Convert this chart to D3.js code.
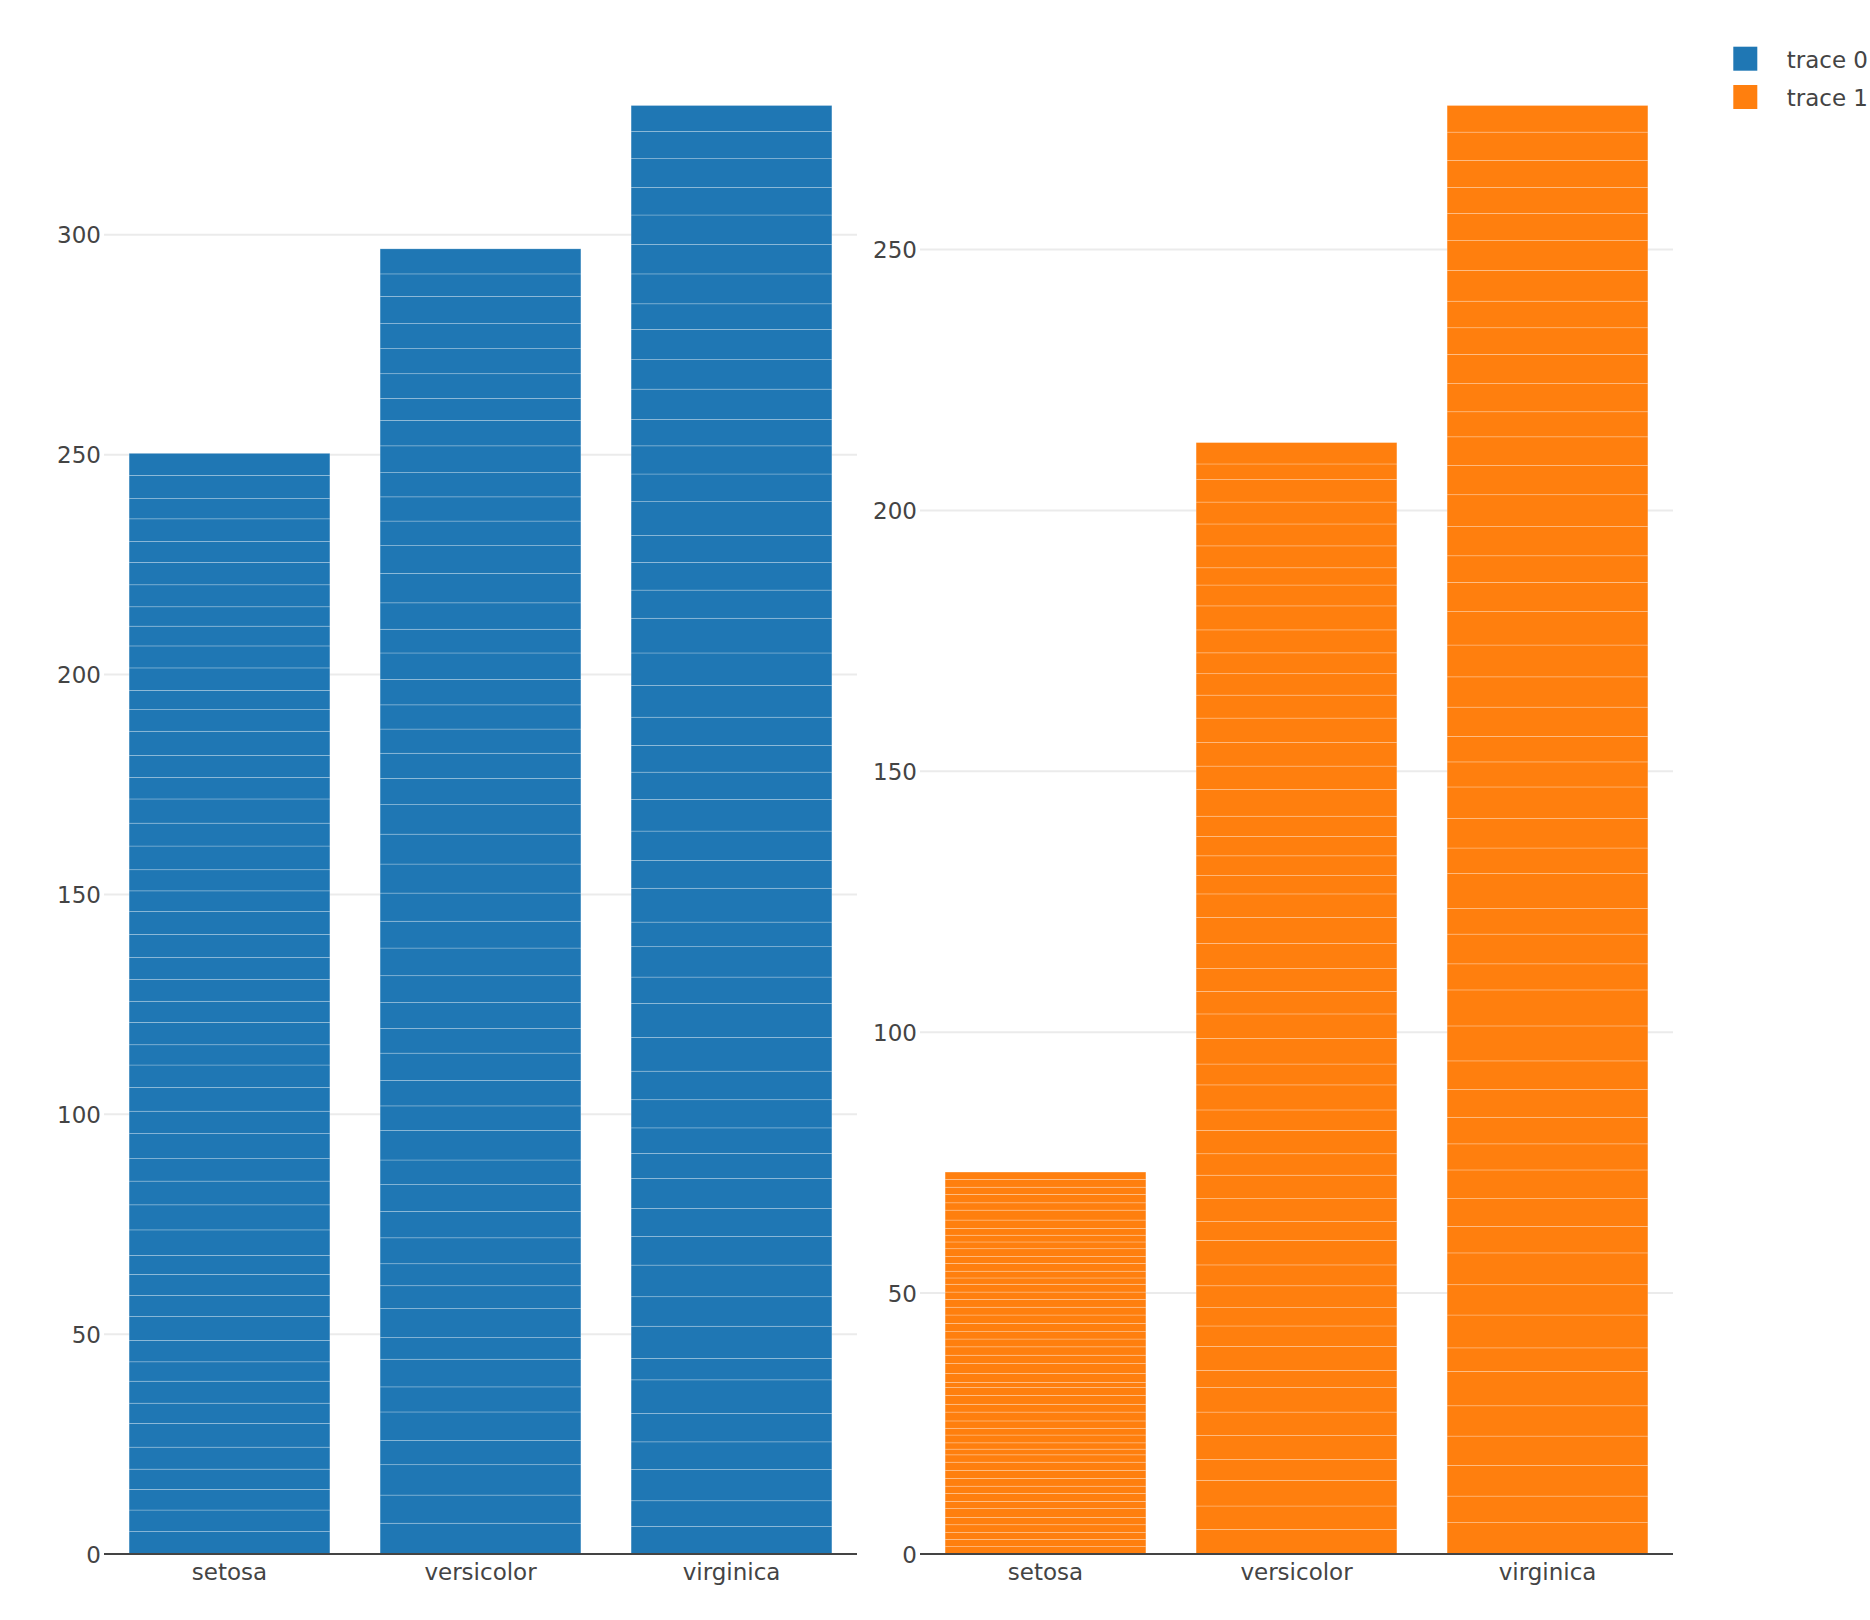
<!DOCTYPE html>
<html>
<head>
<meta charset="utf-8">
<script src="https://cdn.jsdelivr.net/npm/d3@7"></script>
<style>
  html, body { margin: 0; padding: 0; background: #fff; }
  svg { display: block; }
</style>
</head>
<body>
<script>
// ---- data (iris: trace 0 = sepal length, trace 1 = petal length, stacked per sample) ----
const categories = ["setosa", "versicolor", "virginica"];
const traceNames = ["trace 0", "trace 1"];
const traceColors = ["#1f77b4", "#ff7f0e"];

const setosaSepal = [5.1,4.9,4.7,4.6,5.0,5.4,4.6,5.0,4.4,4.9,5.4,4.8,4.8,4.3,5.8,5.7,5.4,5.1,5.7,5.1,5.4,5.1,4.6,5.1,4.8,5.0,5.0,5.2,5.2,4.7,4.8,5.4,5.2,5.5,4.9,5.0,5.5,4.9,4.4,5.1,5.0,4.5,4.4,5.0,5.1,4.8,5.1,4.6,5.3,5.0];
const versicolorSepal = [7.0,6.4,6.9,5.5,6.5,5.7,6.3,4.9,6.6,5.2,5.0,5.9,6.0,6.1,5.6,6.7,5.6,5.8,6.2,5.6,5.9,6.1,6.3,6.1,6.4,6.6,6.8,6.7,6.0,5.7,5.5,5.5,5.8,6.0,5.4,6.0,6.7,6.3,5.6,5.5,5.5,6.1,5.8,5.0,5.6,5.7,5.7,6.2,5.1,5.7];
const virginicaSepal = [6.3,5.8,7.1,6.3,6.5,7.6,4.9,7.3,6.7,7.2,6.5,6.4,6.8,5.7,5.8,6.4,6.5,7.7,7.7,6.0,6.9,5.6,7.7,6.3,6.7,7.2,6.2,6.1,6.4,7.2,7.4,7.9,6.4,6.3,6.1,7.7,6.3,6.4,6.0,6.9,6.7,6.9,5.8,6.8,6.7,6.7,6.3,6.5,6.2,5.9];

const setosaPetal = [1.4,1.4,1.3,1.5,1.4,1.7,1.4,1.5,1.4,1.5,1.5,1.6,1.4,1.1,1.2,1.5,1.3,1.4,1.7,1.5,1.7,1.5,1.0,1.7,1.9,1.6,1.6,1.5,1.4,1.6,1.6,1.5,1.5,1.4,1.5,1.2,1.3,1.5,1.3,1.5,1.3,1.3,1.3,1.6,1.9,1.4,1.6,1.4,1.5,1.4];
const versicolorPetal = [4.7,4.5,4.9,4.0,4.6,4.5,4.7,3.3,4.6,3.9,3.5,4.2,4.0,4.7,3.6,4.4,4.5,4.1,4.5,3.9,4.8,4.0,4.9,4.7,4.3,4.4,4.8,5.0,4.5,3.5,3.8,3.7,3.9,5.1,4.5,4.5,4.7,4.4,4.1,4.0,4.4,4.6,4.0,3.3,4.2,4.2,4.2,4.3,3.0,4.1];
const virginicaPetal = [6.0,5.1,5.9,5.6,5.8,6.6,4.5,6.3,5.8,6.1,5.1,5.3,5.5,5.0,5.1,5.3,5.5,6.7,6.9,5.0,5.7,4.9,6.7,4.9,5.7,6.0,4.8,4.9,5.6,5.8,6.1,6.4,5.6,5.1,5.6,6.1,5.6,5.5,4.8,5.4,5.6,5.1,5.1,5.9,5.7,5.2,5.0,5.2,5.4,5.1];

const leftTicks = [0, 50, 100, 150, 200, 250, 300];
const rightTicks = [0, 50, 100, 150, 200, 250];

// ---- layout ----
const W = 1870, H = 1620;
const FONT = "'DejaVu Sans', Verdana, sans-serif";
const TEXT = "#444";
const panels = [
  { x0: 104, x1: 857, series: [setosaSepal, versicolorSepal, virginicaSepal], ticks: leftTicks, color: traceColors[0] },
  { x0: 920, x1: 1673, series: [setosaPetal, versicolorPetal, virginicaPetal], ticks: rightTicks, color: traceColors[1] }
];
const yBottom = 1554, yTop = 105.5;

const svg = d3.select("body").append("svg").attr("width", W).attr("height", H)
  .style("font-family", FONT);

panels.forEach(p => {
  const totals = p.series.map(s => d3.sum(s));
  const x = d3.scaleBand().domain(categories).range([p.x0, p.x1]).paddingInner(0.2).paddingOuter(0.1);
  const y = d3.scaleLinear().domain([0, d3.max(totals)]).range([yBottom, yTop]);
  const g = svg.append("g");

  // gridlines
  g.append("g").selectAll("line").data(p.ticks.filter(t => t > 0)).join("line")
    .attr("x1", p.x0).attr("x2", p.x1)
    .attr("y1", d => y(d)).attr("y2", d => y(d))
    .attr("stroke", "#ebebeb").attr("stroke-width", 2);

  // stacked segments
  categories.forEach((c, i) => {
    const vals = p.series[i];
    const segs = [];
    let acc = 0;
    vals.forEach(v => { segs.push([acc, acc + v]); acc += v; });
    g.append("g").selectAll("rect").data(segs).join("rect")
      .attr("x", x(c)).attr("width", x.bandwidth())
      .attr("y", d => y(d[1])).attr("height", d => y(d[0]) - y(d[1]))
      .attr("fill", p.color)
      .attr("stroke", "#fff").attr("stroke-width", 0.6).attr("stroke-opacity", 0.4);
  });

  // y axis labels
  const ya = d3.axisLeft(y).tickValues(p.ticks).tickSize(0).tickPadding(3).tickFormat(d3.format("d"));
  const yg = g.append("g").attr("transform", `translate(${p.x0},0)`).call(ya);
  yg.select(".domain").remove();
  yg.selectAll("text").attr("font-size", 23).attr("font-family", FONT).attr("fill", TEXT).attr("dy", "0.35em");

  // x axis
  const xa = d3.axisBottom(x).tickSize(0).tickPadding(0);
  const xg = g.append("g").attr("transform", `translate(0,${yBottom})`).call(xa);
  xg.select(".domain").attr("stroke", TEXT).attr("stroke-width", 2)
    .attr("d", `M${p.x0},0H${p.x1}`);
  xg.selectAll("text").attr("font-size", 23).attr("font-family", FONT).attr("fill", TEXT)
    .attr("dy", null).attr("y", 26);
});

// legend
const leg = svg.append("g");
traceNames.forEach((n, i) => {
  const cy = 58.7 + i * 38.3;
  leg.append("rect").attr("x", 1733.3).attr("y", cy - 12).attr("width", 24).attr("height", 24)
    .attr("fill", traceColors[i]);
  leg.append("text").attr("x", 1786.7).attr("y", cy + 9).text(n)
    .attr("font-size", 23).attr("fill", TEXT);
});
</script>
</body>
</html>
